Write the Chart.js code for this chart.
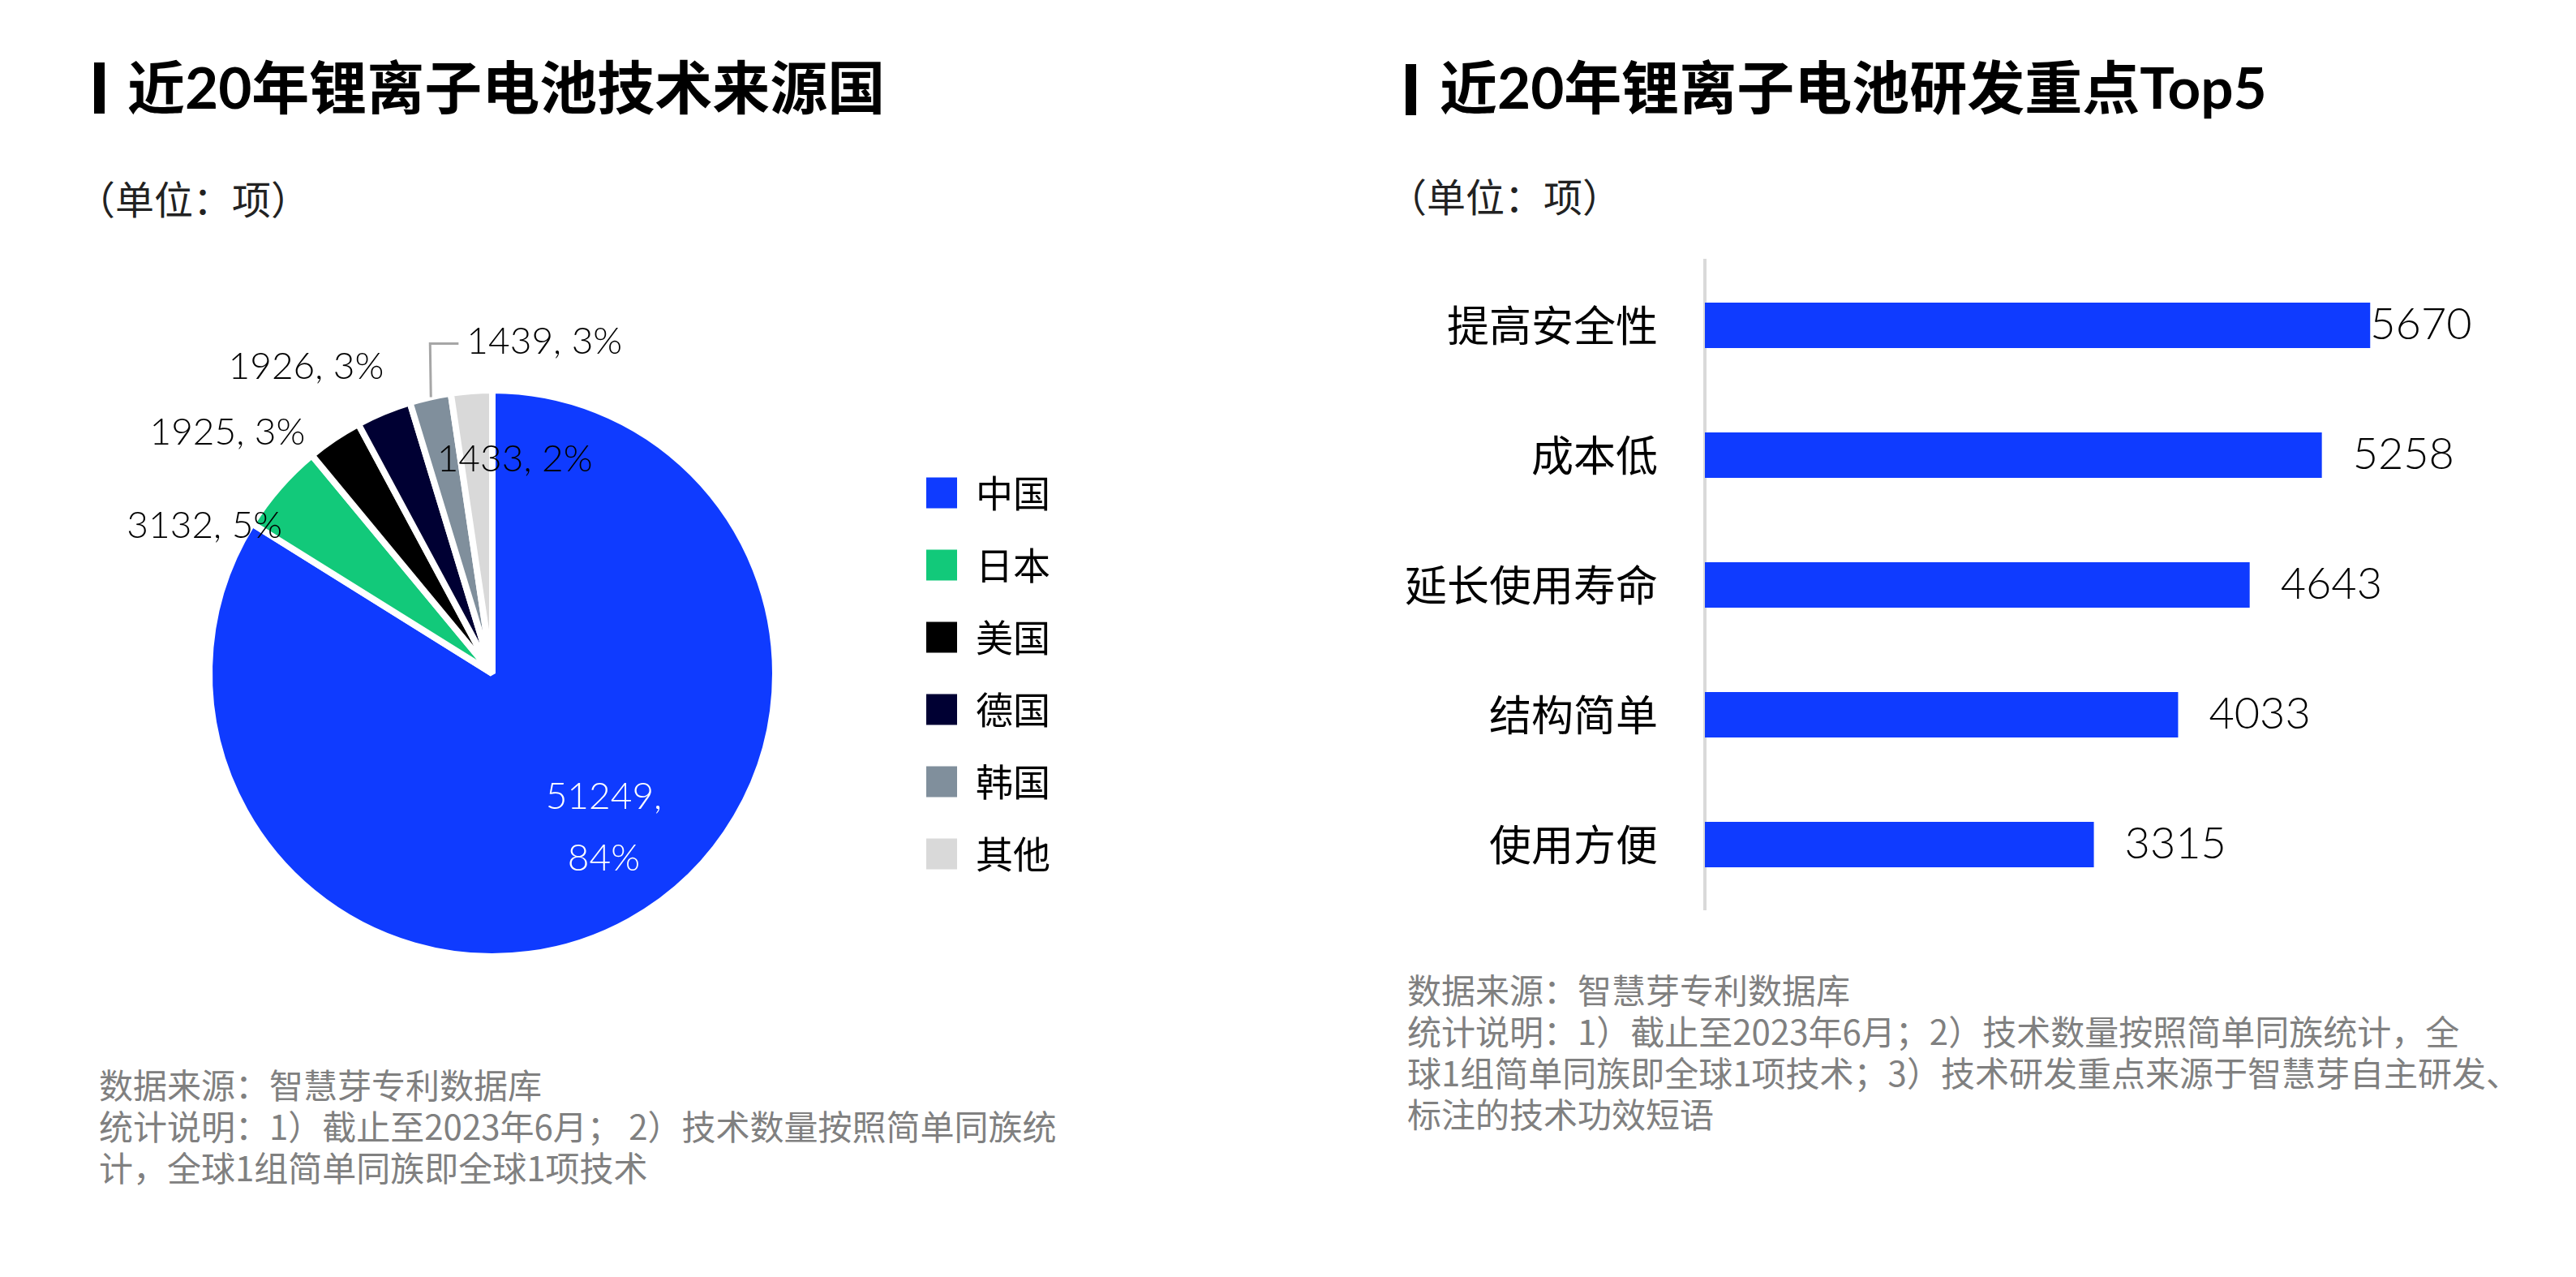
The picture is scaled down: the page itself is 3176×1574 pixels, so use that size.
<!DOCTYPE html>
<html lang="zh">
<head>
<meta charset="utf-8">
<title>近20年锂离子电池</title>
<script src="https://cdn.jsdelivr.net/npm/chart.js@4.4.0/dist/chart.umd.min.js"></script>
<style>
  html, body { margin: 0; padding: 0; background: #fff; }
  body { width: 3176px; height: 1574px; position: relative; overflow: hidden;
         font-family: "Lato", "Noto Sans CJK SC", sans-serif; }
  .title { position: absolute; font-size: 71px; line-height: 70px; font-weight: 700; color: #000; white-space: nowrap; }
  .title-bar { position: absolute; width: 13px; height: 63px; background: #000; }
  .unit { position: absolute; font-family: "Noto Sans CJK SC"; font-size: 48px; line-height: 48px; color: #222; white-space: nowrap; }
  .note { position: absolute; font-family: "Noto Sans CJK SC"; font-size: 42px; line-height: 51px; color: #808080; white-space: nowrap; }
  canvas { position: absolute; }
</style>
</head>
<body>

<div class="title-bar" style="left:116px; top:77px;"></div>
<div class="title" style="left:157px; top:72px;">近20年锂离子电池技术来源国</div>
<div class="unit" style="left:94px; top:219px;">（单位：项）</div>
<canvas id="pieChart" width="1588" height="900" style="left:0; top:380px;"></canvas>
<div class="note" style="left:122px; top:1310px;">数据来源：智慧芽专利数据库<br>统计说明：1）截止至2023年6月； 2）技术数量按照简单同族统<br>计，全球1组简单同族即全球1项技术</div>

<div class="title-bar" style="left:1733px; top:79px;"></div>
<div class="title" style="left:1775px; top:72px;">近20年锂离子电池研发重点Top5</div>
<div class="unit" style="left:1711px; top:216px;">（单位：项）</div>
<canvas id="barChart" width="1588" height="840" style="left:1588px; top:300px;"></canvas>
<div class="note" style="left:1735px; top:1193px;">数据来源：智慧芽专利数据库<br>统计说明：1）截止至2023年6月；2）技术数量按照简单同族统计，全<br>球1组简单同族即全球1项技术；3）技术研发重点来源于智慧芽自主研发、<br>标注的技术功效短语</div>

<script>
// left chart: where the patents come from
var countries = ['中国', '日本', '美国', '德国', '韩国', '其他'];
var patents = [51249, 3132, 1925, 1926, 1439, 1433];
var shares = [84, 5, 3, 3, 3, 2];   // percent text as printed on the chart

// right chart: top 5 research goals
var focusAreas = ['提高安全性', '成本低', '延长使用寿命', '结构简单', '使用方便'];
var focusCounts = [5670, 5258, 4643, 4033, 3315];

var countryColors = ['#0f3bff', '#12c97a', '#000000', '#000033', '#808f9c', '#d9d9d9'];
var barBlue = '#0f3bff';

Chart.defaults.font.family = '"Noto Sans CJK SC", sans-serif';

// label offsets from the outer edge of each slice (px)
var pieLabelNudge = [[-30, -111], [-95, 45], [-134, -11], [-97, -59], [140, -72], [53, 80]];

var pieLabels = {
  id: 'pieLabels',
  afterDatasetsDraw: function(chart) {
    var ctx = chart.ctx;
    var arcs = chart.getDatasetMeta(0).data;
    ctx.save();
    ctx.font = '300 46px Lato, "Noto Sans CJK SC"';
    ctx.textAlign = 'center';
    ctx.textBaseline = 'middle';
    arcs.forEach(function(arc, i) {
      var p = arc.getProps(['x', 'y', 'startAngle', 'endAngle', 'outerRadius'], true);
      var mid = (p.startAngle + p.endAngle) / 2;
      var ax = p.x + Math.cos(mid) * (p.outerRadius - 4);
      var ay = p.y + Math.sin(mid) * (p.outerRadius - 4);
      var lx = ax + pieLabelNudge[i][0];
      var ly = ay + pieLabelNudge[i][1];
      if (i === 0) {
        ctx.fillStyle = '#fff';
        ctx.fillText(patents[i] + ',', lx, ly - 38);
        ctx.fillText(shares[i] + '%', lx, ly + 38);
        return;
      }
      var txt = patents[i] + ', ' + shares[i] + '%';
      ctx.fillStyle = '#000';
      ctx.fillText(txt, lx, ly);
      if (i === 4) {
        // leader line for the small Korea slice
        var w = ctx.measureText(txt).width;
        ctx.strokeStyle = '#a6a6a6';
        ctx.lineWidth = 3;
        ctx.beginPath();
        ctx.moveTo(ax, ay - 4);
        ctx.lineTo(ax - 1, ly + 2);
        ctx.lineTo(lx - w / 2 - 10, ly + 2);
        ctx.stroke();
      }
    });
    ctx.restore();
  }
};

var barValueLabels = {
  id: 'barValueLabels',
  afterDatasetsDraw: function(chart) {
    var ctx = chart.ctx;
    var bars = chart.getDatasetMeta(0).data;
    ctx.save();
    ctx.font = '300 54px Lato, "Noto Sans CJK SC"';
    ctx.fillStyle = '#000';
    ctx.textAlign = 'left';
    ctx.textBaseline = 'middle';
    bars.forEach(function(bar, i) {
      var gap = i === 0 ? 0 : 38;
      ctx.fillText(focusCounts[i], bar.x + gap, bar.y);
    });
    ctx.restore();
  }
};

new Chart(document.getElementById('pieChart'), {
  type: 'pie',
  data: {
    labels: countries,
    datasets: [{
      data: patents,
      backgroundColor: countryColors,
      borderColor: '#ffffff',
      borderWidth: 8
    }]
  },
  options: {
    responsive: false,
    animation: false,
    radius: 349,
    layout: { padding: { left: 115, right: 283, top: 0, bottom: 0 } },
    plugins: {
      legend: {
        position: 'right',
        align: 'center',
        labels: {
          boxWidth: 38,
          boxHeight: 38,
          padding: 43,
          color: '#000',
          font: { size: 46 },
          generateLabels: function() {
            return countries.map(function(c, i) {
              return { text: c, fillStyle: countryColors[i], strokeStyle: countryColors[i], lineWidth: 0, hidden: false, index: i };
            });
          }
        }
      },
      tooltip: { enabled: false }
    }
  },
  plugins: [pieLabels]
});

new Chart(document.getElementById('barChart'), {
  type: 'bar',
  data: {
    labels: focusAreas,
    datasets: [{
      data: focusCounts,
      backgroundColor: barBlue,
      categoryPercentage: 1,
      barPercentage: 0.35
    }]
  },
  options: {
    indexAxis: 'y',
    responsive: false,
    animation: false,
    layout: { padding: { left: 0, right: 206, top: 21, bottom: 19 } },
    scales: {
      x: { display: false, min: 0, max: 6000 },
      y: {
        // fixed axis width, and no extra room above/below for the tick labels
        afterFit: function(scale) {
          scale.width = 514;
          scale.paddingTop = 0;
          scale.paddingBottom = 0;
        },
        grid: { display: false, drawTicks: false },
        border: { display: true, color: '#d9d9d9', width: 4 },
        ticks: { padding: 58, color: '#000', font: { size: 52 } }
      }
    },
    plugins: {
      legend: { display: false },
      tooltip: { enabled: false }
    }
  },
  plugins: [barValueLabels]
});
</script>
</body>
</html>
